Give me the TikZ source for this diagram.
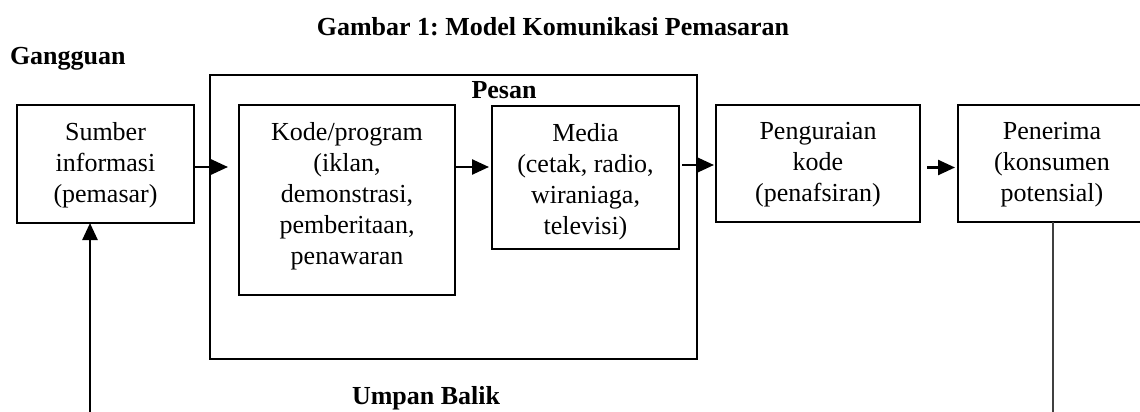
\documentclass[tikz,border=0pt]{standalone}
\usepackage{fontspec}
\setmainfont{Liberation Serif}
\usetikzlibrary{arrows.meta}
\frenchspacing
\begin{document}
\begin{tikzpicture}[x=1pt,y=-1pt,
  every node/.style={inner sep=0pt,outer sep=0pt,font=\fontsize{26}{31}\selectfont},
  box/.style={draw,line width=2.8pt},
  boxtext/.style={anchor=north,align=center},
  heading/.style={font=\fontsize{26}{31}\selectfont\bfseries},
  arr/.style={line width=2.5pt,-{Triangle[length=17pt,width=15pt]}},
  thinline/.style={line width=1.3pt,draw=black!75}]
\useasboundingbox (0,0) rectangle (1140,412);

% headings
\node[heading,anchor=base] (title) at (553,36) {Gambar 1: Model Komunikasi Pemasaran};
\node[heading,anchor=base west] (noise) at (10,64) {Gangguan};
\node[heading,anchor=base west] (feedback) at (352,404) {Umpan Balik};

% message frame
\node[draw,line width=1.2pt,minimum width=487pt,minimum height=284pt] (pesanframe) at (453.5,217) {};
\node[heading,anchor=base] (pesan) at (504,98) {Pesan};

% boxes
\node[box,minimum width=177pt,minimum height=118pt] (sumber) at (105.5,164) {};
\node[box,minimum width=216pt,minimum height=190pt] (kode) at (347,200) {};
\node[box,minimum width=187pt,minimum height=143pt] (media) at (585.5,177.5) {};
\node[box,minimum width=204pt,minimum height=117pt] (peng) at (818,163.5) {};
\node[box,minimum width=188pt,minimum height=117pt] (pen) at (1052,163.5) {};

% box texts
\node[boxtext] (sumbert) at ([yshift=-17pt]sumber.north) {Sumber\\informasi\\(pemasar)};
\node[boxtext] (kodet) at ([yshift=-17pt]kode.north) {Kode/program\\(iklan,\\demonstrasi,\\pemberitaan,\\penawaran};
\node[boxtext] (mediat) at ([yshift=-17pt]media.north) {Media\\(cetak, radio,\\wiraniaga,\\televisi)};
\node[boxtext] (pengt) at ([yshift=-17pt]peng.north) {Penguraian\\kode\\(penafsiran)};
\node[boxtext] (pent) at ([yshift=-17pt]pen.north) {Penerima\\(konsumen\\potensial)};

% forward arrows
\draw[arr,shorten >=11pt] ([yshift=-3pt]sumber.east) -- ([yshift=-3pt]sumber.east -| kode.west);
\draw[arr,shorten >=3pt] ([yshift=-3pt]sumber.east -| kode.east) -- ([yshift=-3pt]sumber.east -| media.west);
\draw[arr,shorten <=3pt,shorten >=2pt] ([yshift=-1pt]sumber.east -| media.east) -- ([yshift=-1pt]sumber.east -| peng.west);
\draw[arr,shorten <=7pt,shorten >=3pt] ([yshift=-4pt]peng.east) -- ([yshift=-4pt]pen.west);

% feedback lines
\coordinate (fbstart) at (90,412);
\coordinate (penend) at (1053,412);
\draw[arr] (fbstart) -- (fbstart |- sumber.south);
\draw[thinline] (penend |- pen.south) -- (penend);
\end{tikzpicture}
\end{document}
